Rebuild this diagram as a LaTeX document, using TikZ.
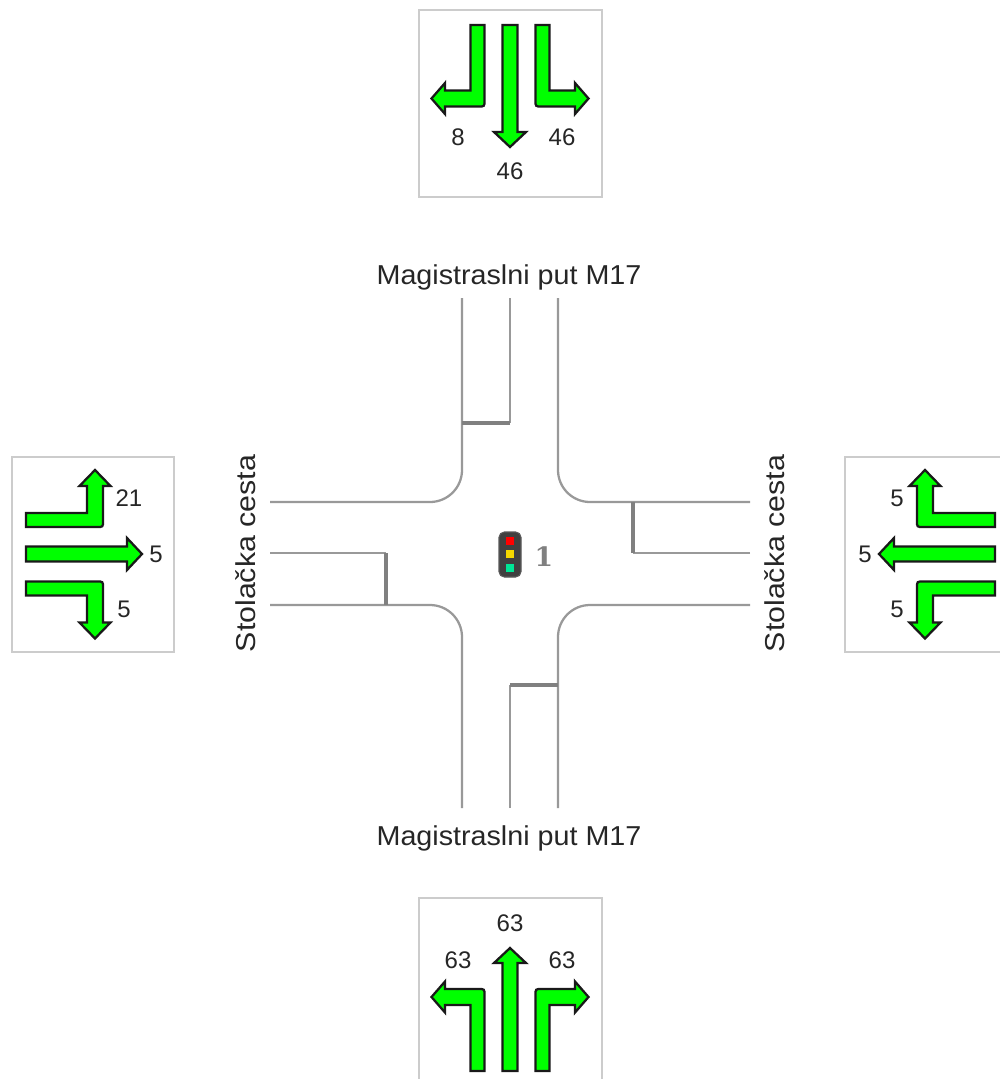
\documentclass[tikz,border=0pt]{standalone}
\usepackage{fontspec}
\setmainfont{Liberation Sans}
\newfontfamily\signalfont{DejaVu Serif}
\definecolor{lampTeal}{RGB}{0,230,150}
\definecolor{lampAmber}{RGB}{245,215,0}

\begin{document}
\begin{tikzpicture}
[x=0.75pt,y=-0.75pt,
  roadLine/.style={draw=black!40,line width=1.7pt,rounded corners=24pt},
  stopLine/.style={draw=black!50,line width=2.4pt},
  panelBox/.style={draw=black!20,line width=1pt,fill=white},
  laneArrow/.style={draw=black!90,fill=green,line width=1.7pt,line join=miter},
  countLabel/.style={inner sep=0pt,font=\fontsize{18}{18}\selectfont,text=black!85},
  roadLabel/.style={inner sep=0pt,font=\fontsize{20.5}{20.5}\selectfont,text=black!85}]
\useasboundingbox (0,0) rectangle (1000,1079);
%% panels
\foreach \boxname/\xa/\ya/\xb/\yb in {
  panelN/419/10/602/197,
  panelW/12/457/174/652,
  panelE/845/457/1010/652,
  panelS/419/898/602/1090}
{
  \path[panelBox] (\xa,\ya) rectangle (\xb,\yb);
}
%% straight arrows
\foreach \x/\y/\rot/\lenbase in {
  510/25/0/107,
  510/1071/180/108,
  26/554/90/101,
  995/554/-90/101}
{
  \draw[laneArrow,shift={(\x,\y)},rotate=\rot]
    (-7.5,0) -- (-7.5,\lenbase) -- (-16,\lenbase) -- (0,\lenbase+15)
    -- (16,\lenbase) -- (7.5,\lenbase) -- (7.5,0) -- cycle;
}
%% turning arrows
\foreach \x/\y/\rot/\flip/\bend/\side/\tip in {
  477.5/25/0/1/73.5/-32.5/-46,
  542.5/25/0/-1/73.5/-32.5/-46,
  477.5/1071/180/-1/74/-32.5/-46,
  542.5/1071/180/1/74/-32.5/-46,
  26/520/90/-1/69/-34/-50,
  26/588.5/90/1/69/-34/-50,
  995/520/-90/1/70/-34/-50,
  995/588.5/-90/-1/70/-34/-50}
{
  \draw[laneArrow,shift={(\x,\y)},rotate=\rot,xscale=\flip]
    (-7,0) -- (-7,\bend-8) -- (\side,\bend-8) -- (\side,\bend-15.5)
    -- (\tip,\bend) -- (\side,\bend+15.5) -- (\side,\bend+8)
    -- (1,\bend+8) .. controls (7,\bend+8) .. (7,\bend+2)
    -- (7,0) -- cycle;
}
%% traffic counts
\foreach \nodename/\x/\y/\val in {
  cntNL/458/137/8, cntNT/510/171/46, cntNR/562/137/46,
  cntWL/129/498/21, cntWT/156/554/5, cntWR/124/609/5,
  cntER/897/498/5, cntET/865/554/5, cntEL/897/609/5,
  cntSL/458/960/63, cntST/510/923/63, cntSR/562/960/63}
{
  \node[countLabel] (\nodename) at (\x,\y) {\val};
}
%% road edges
\draw[roadLine] (462,298) -- (462,502) -- (270,502);
\draw[roadLine] (558,298) -- (558,502) -- (750,502);
\draw[roadLine] (270,605) -- (462,605) -- (462,808);
\draw[roadLine] (750,605) -- (558,605) -- (558,808);
%% centre lines and stop lines
\foreach \xa/\ya/\xb/\yb/\xc/\yc in {
  510/298/510/423/462/423,
  750/553/633/553/633/502,
  510/808/510/685/558/685,
  270/553/386/553/386/605}
{
  \draw[roadLine] (\xa,\ya) -- (\xb,\yb);
  \draw[stopLine] (\xb,\yb) -- (\xc,\yc);
}
%% road names
\node[roadLabel,xscale=1.05] (nameN) at (509,277) {Magistraslni put M17};
\node[roadLabel,xscale=1.05] (nameS) at (509,838) {Magistraslni put M17};
\node[roadLabel,rotate=90,xscale=1.11] (nameW) at (246,553.5) {Stolačka cesta};
\node[roadLabel,rotate=90,xscale=1.11] (nameE) at (775,553.5) {Stolačka cesta};
%% signal
\draw[fill=black!75,draw=black!65,line width=0.8pt,rounded corners=4pt] (499,532) rectangle (521,577);
\foreach \lampname/\y/\col in {lampR/540.5/red, lampY/554/lampAmber, lampG/568/lampTeal}
{
  \node[fill=\col,inner sep=0pt,minimum size=6pt] (\lampname) at (510,\y) {};
}
\node[inner sep=0pt,text=black!50,font=\signalfont\bfseries\fontsize{20}{20}\selectfont] (signalNo) at (544,557) {1};
\end{tikzpicture}
\end{document}
